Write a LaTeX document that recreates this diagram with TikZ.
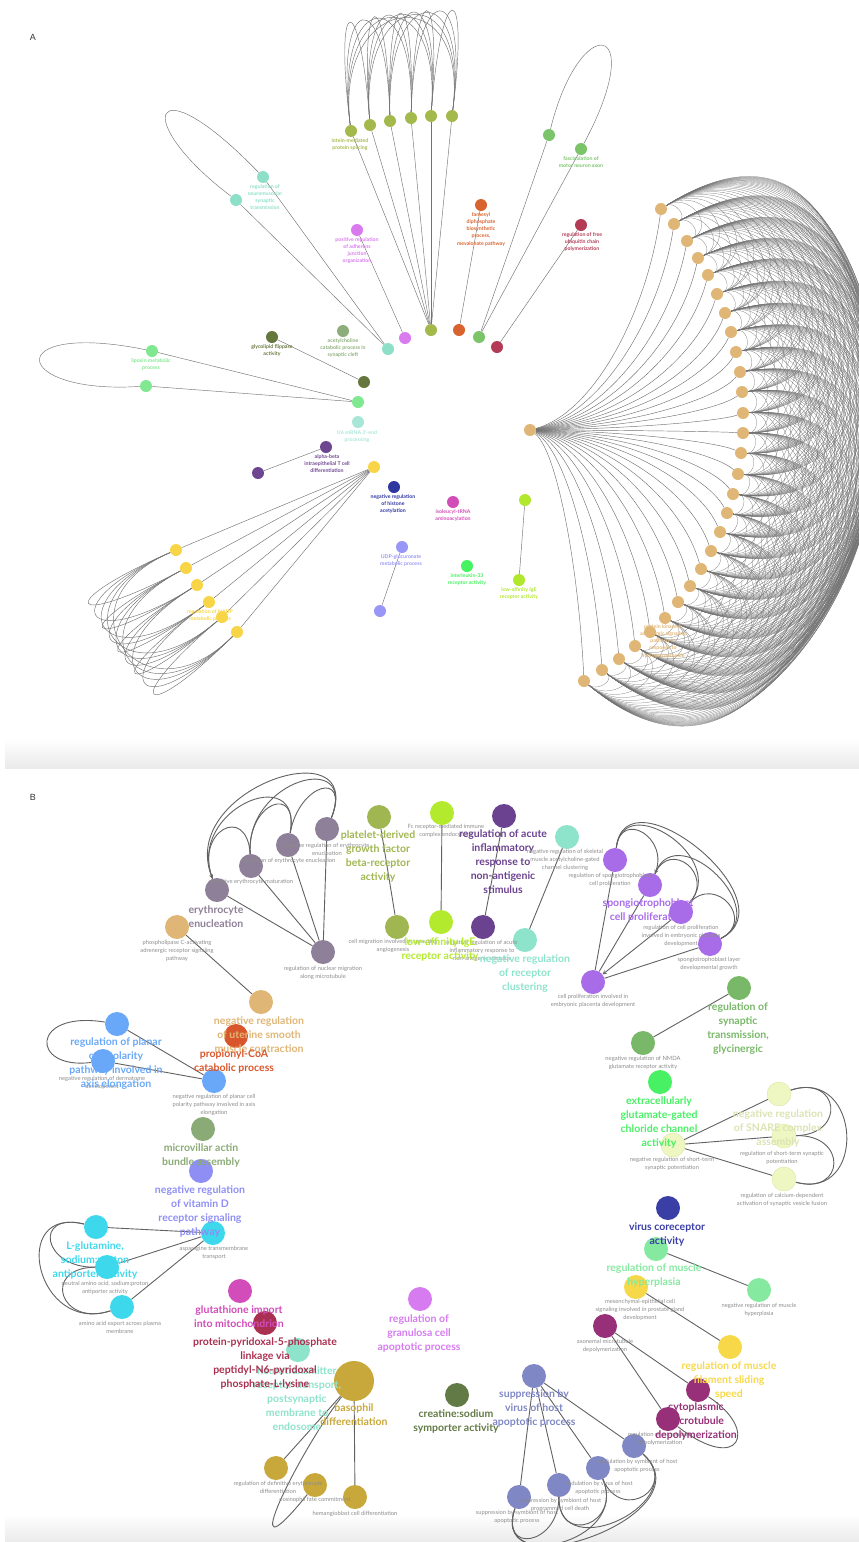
\documentclass[tikz,border=0pt]{standalone}
\usepackage{fontspec}
\setmainfont{Lato}
\setsansfont{Liberation Sans}
\usetikzlibrary{calc,positioning,backgrounds}

% panel A colours
\definecolor{oliveA}{HTML}{A4B94C}
\definecolor{tealA}{HTML}{8EDFC8}
\definecolor{magA}{HTML}{D97AEE}
\definecolor{orangeA}{HTML}{D9632E}
\definecolor{greenA}{HTML}{7BC46A}
\definecolor{crimA}{HTML}{B33B55}
\definecolor{dkoliveA}{HTML}{66773E}
\definecolor{sageA}{HTML}{8DAE7A}
\definecolor{lgreenA}{HTML}{80E890}
\definecolor{ptealA}{HTML}{A8E6D8}
\definecolor{purpA}{HTML}{6E4591}
\definecolor{yellowA}{HTML}{F7D547}
\definecolor{navyA}{HTML}{2E36A0}
\definecolor{pinkA}{HTML}{D34DB8}
\definecolor{lavA}{HTML}{9896F6}
\definecolor{bgreenA}{HTML}{45F25F}
\definecolor{limeA}{HTML}{B1E82E}
\definecolor{tanA}{HTML}{E0B676}
% panel B colours
\definecolor{mauveB}{HTML}{8E8098}
\definecolor{tanB}{HTML}{E0B676}
\definecolor{oliveB}{HTML}{A0B650}
\definecolor{limeB}{HTML}{B3EA2E}
\definecolor{dpurpB}{HTML}{6B4290}
\definecolor{aquaB}{HTML}{8EE3CB}
\definecolor{violetB}{HTML}{A86CE9}
\definecolor{greenB}{HTML}{78B868}
\definecolor{blueB}{HTML}{69A8F9}
\definecolor{rustB}{HTML}{D9552B}
\definecolor{sageB}{HTML}{8AAA76}
\definecolor{periB}{HTML}{8E8EF5}
\definecolor{cyanB}{HTML}{3DD8EC}
\definecolor{magB}{HTML}{D24CBA}
\definecolor{crimB}{HTML}{A93050}
\definecolor{goldB}{HTML}{C8A83A}
\definecolor{dkoliveB}{HTML}{627A45}
\definecolor{orchidB}{HTML}{D67BF0}
\definecolor{bgreenB}{HTML}{48F064}
\definecolor{paleB}{HTML}{EEF7C2}
\definecolor{navyB}{HTML}{3A3FA6}
\definecolor{mintB}{HTML}{86E9A0}
\definecolor{yellowB}{HTML}{F7D848}
\definecolor{plumB}{HTML}{973078}
\definecolor{slateB}{HTML}{7F87C4}

\tikzset{
  vtx/.style={circle, fill=#1, inner sep=0pt, minimum size=12pt},
  bvtx/.style={circle, fill=#1, inner sep=0pt, minimum size=24pt},
  lblA/.style={font=\bfseries\fontsize{5.2}{7.3}\selectfont, text=#1, align=center, inner sep=0pt, anchor=north},
  lblB/.style={font=\bfseries\fontsize{10.5}{14}\selectfont, text=#1, align=center, inner sep=0pt, anchor=north},
  note/.style={font=\fontsize{5.8}{8}\selectfont, text=black!45, align=center, inner sep=0pt, anchor=north},
  EdgeA/.style={draw=black!55, line width=0.45pt},
  EdgeB/.style={draw=black!62, line width=0.9pt},
  Mesh/.style={draw=black!55, line width=0.25pt},
}

% curve from #2 to #3 bowing away from centre #4, reach #5 (\n4 = chord)
\newcommand{\bowarc}[5][]{%
  \draw[#1] let \p1=(#2), \p2=(#3), \p3=(#4),
      \n1={veclen(\x1-\x3,\y1-\y3)}, \n2={veclen(\x2-\x3,\y2-\y3)},
      \n4={veclen(\x2-\x1,\y2-\y1)} in
    (#2) .. controls ({\x1+(#5)*((\x1-\x3)/\n1)},{\y1+(#5)*((\y1-\y3)/\n1)})
    and ({\x2+(#5)*((\x2-\x3)/\n2)},{\y2+(#5)*((\y2-\y3)/\n2)}) .. (#3);%
}

\begin{document}
\begin{tikzpicture}[x=1pt, y=-1pt]
  \useasboundingbox (0,0) rectangle (859,1542);

  % Panel letters
  \node[font=\sffamily\fontsize{9}{9}\selectfont, text=black!80] (pA) at (33,37) {A};
  \node[font=\sffamily\fontsize{9}{9}\selectfont, text=black!80] (pB) at (33,797) {B};

  % Centres for the loops
  \coordinate (ctrT) at (300,440);
  \coordinate (ctrO) at (400,520);
  \coordinate (ctrY) at (430,440);
  \coordinate (ctrE) at (260,1000);
  \coordinate (ctrP) at (600,1000);
  \coordinate (ctrC) at (250,1265);
  \coordinate (ctrN) at (640,1140);
  \coordinate (ctrS) at (560,1380);

  % Vertices -- panel A
  \node[vtx=oliveA] (o0) at (431,330) {};
  \foreach \x/\y [count=\k] in {351/131, 370/125, 390/121, 411/118, 431/116, 452/116}
    \node[vtx=oliveA] (o\k) at (\x,\y) {};
  \node[vtx=tealA] (ta0) at (388,349) {};
  \node[vtx=tealA] (ta1) at (263,177) {};
  \node[vtx=tealA] (ta2) at (236,200) {};
  \node[vtx=magA] (ma0) at (405,338) {};
  \node[vtx=magA] (ma1) at (357,230) {};
  \node[vtx=orangeA] (or0) at (459,330) {};
  \node[vtx=orangeA] (or1) at (481,205) {};
  \node[vtx=greenA] (ga0) at (479,337) {};
  \node[vtx=greenA] (ga1) at (549,135) {};
  \node[vtx=greenA] (ga2) at (581,149) {};
  \node[vtx=crimA] (cr0) at (497,347) {};
  \node[vtx=crimA] (cr1) at (581,225) {};
  \node[vtx=dkoliveA] (dk0) at (364,382) {};
  \node[vtx=dkoliveA] (dk1) at (272,337) {};
  \node[vtx=sageA] (sg) at (343,331) {};
  \node[vtx=lgreenA] (la0) at (358,402) {};
  \node[vtx=lgreenA] (la1) at (152,351) {};
  \node[vtx=lgreenA] (la2) at (146,386) {};
  \node[vtx=ptealA] (pt) at (358,422) {};
  \node[vtx=purpA] (pu1) at (326,447) {};
  \node[vtx=purpA] (pu2) at (258,473) {};
  \node[vtx=yellowA] (yw0) at (374,467) {};
  \foreach \x/\y [count=\k] in {176/550, 186/568, 197/585, 209/602, 222/617, 237/632}
    \node[vtx=yellowA] (yw\k) at (\x,\y) {};
  \node[vtx=navyA] (nv) at (394,487) {};
  \node[vtx=pinkA] (pk) at (453,502) {};
  \node[vtx=lavA] (lv1) at (402,547) {};
  \node[vtx=lavA] (lv2) at (380,611) {};
  \node[vtx=bgreenA] (bg) at (467,566) {};
  \node[vtx=limeA] (lm1) at (525,500) {};
  \node[vtx=limeA] (lm2) at (519,580) {};
  \node[vtx=tanA] (t0) at (530,430) {};
  \foreach \x/\y [count=\k] in {661/209, 674/224, 687/241, 698/258, 708/275, 717/294,
      725/313, 731/332, 736/352, 740/372, 742/392, 743/413, 743/433, 741/453,
      738/474, 733/494, 727/513, 720/532, 711/551, 701/569, 690/586, 678/602,
      665/618, 650/632, 635/646, 619/659, 602/670, 584/681}
    \node[vtx=tanA] (t\k) at (\x,\y) {};

  % Labels -- panel A
  \node[lblA=oliveA] (o1l) at (350,138) {intein-mediated\\protein splicing};
  \node[lblA=tealA] (ta1l) at (265,184) {regulation of\\neuromuscular\\synaptic\\transmission};
  \node[lblA=magA] (ma1l) at (357,237) {positive regulation\\of adherens\\junction\\organization};
  \node[lblA=orangeA] (or1l) at (481,212) {farnesyl\\diphosphate\\biosynthetic\\process,\\mevalonate pathway};
  \node[lblA=greenA] (ga2l) at (581,156) {fasciculation of\\motor neuron axon};
  \node[lblA=crimA] (cr1l) at (582,232) {regulation of free\\ubiquitin chain\\polymerization};
  \node[lblA=dkoliveA] (dk1l) at (272,344) {glycolipid flippase\\activity};
  \node[lblA=sageA] (sgl) at (343,338) {acetylcholine\\catabolic process in\\synaptic cleft};
  \node[lblA=lgreenA] (la1l) at (151,358) {lipoxin metabolic\\process};
  \node[lblA=ptealA] (ptl) at (357,430) {U6 snRNA 3'-end\\processing};
  \node[lblA=purpA] (pu1l) at (327,454) {alpha-beta\\intraepithelial T cell\\differentiation};
  \node[lblA=navyA] (nvl) at (393,494) {negative regulation\\of histone\\acetylation};
  \node[lblA=pinkA] (pkl) at (453,509) {isoleucyl-tRNA\\aminoacylation};
  \node[lblA=lavA] (lv1l) at (401,554) {UDP-glucuronate\\metabolic process};
  \node[lblA=bgreenA] (bgl) at (467,573) {interleukin-33\\receptor activity};
  \node[lblA=limeA] (lm2l) at (519,587) {low-affinity IgE\\receptor activity};
  \node[lblA=yellowA] (yw4l) at (210,609) {regulation of NADP\\metabolic process};
  \node[lblA=tanA] (t24l) at (663,624) {protein kinase A\\adrenergic signaling\\pathway in\\response to\\hydrogen peroxide};

  % Vertices -- panel B
  \node[bvtx=mauveB] (e1) at (217,890) {};
  \node[bvtx=mauveB] (e2) at (251,866) {};
  \node[bvtx=mauveB] (e3) at (288,845) {};
  \node[bvtx=mauveB] (e4) at (327,829) {};
  \node[bvtx=mauveB] (e0) at (323,952) {};
  \node[bvtx=tanB] (pl1) at (177,927) {};
  \node[bvtx=tanB] (pl2) at (261,1002) {};
  \node[bvtx=oliveB] (pd1) at (379,817) {};
  \node[bvtx=oliveB] (pd2) at (397,927) {};
  \node[bvtx=limeB] (ie1) at (442,813) {};
  \node[bvtx=limeB] (ie2) at (441,922) {};
  \node[bvtx=dpurpB] (ac1) at (504,816) {};
  \node[bvtx=dpurpB] (ac2) at (483,927) {};
  \node[bvtx=aquaB] (rc1) at (567,837) {};
  \node[bvtx=aquaB] (rc2) at (525,940) {};
  \node[bvtx=violetB] (p1) at (615,860) {};
  \node[bvtx=violetB] (p2) at (650,885) {};
  \node[bvtx=violetB] (p3) at (681,912) {};
  \node[bvtx=violetB] (p4) at (710,944) {};
  \node[bvtx=violetB] (p0) at (593,982) {};
  \node[bvtx=greenB] (gl1) at (739,988) {};
  \node[bvtx=greenB] (gl2) at (643,1043) {};
  \node[bvtx=blueB] (b1) at (117,1024) {};
  \node[bvtx=blueB] (b2) at (103,1061) {};
  \node[bvtx=blueB] (b3) at (214,1081) {};
  \node[bvtx=rustB] (pc) at (236,1036) {};
  \node[bvtx=sageB] (mv) at (203,1129) {};
  \node[bvtx=periB] (vd) at (201,1171) {};
  \node[bvtx=cyanB] (c1) at (96,1227) {};
  \node[bvtx=cyanB] (c2) at (107,1267) {};
  \node[bvtx=cyanB] (c3) at (122,1307) {};
  \node[bvtx=cyanB] (c0) at (213,1233) {};
  \node[bvtx=magB] (gi) at (240,1291) {};
  \node[bvtx=crimB] (pp) at (265,1323) {};
  \node[bvtx=aquaB] (nt) at (298,1350) {};
  \node[bvtx=goldB, minimum size=40pt] (g0) at (354,1381) {};
  \node[bvtx=goldB] (g1) at (276,1468) {};
  \node[bvtx=goldB] (g2) at (315,1485) {};
  \node[bvtx=goldB] (g3) at (355,1497) {};
  \node[bvtx=orchidB] (gc) at (420,1299) {};
  \node[bvtx=dkoliveB] (cs) at (457,1395) {};
  \node[bvtx=bgreenB] (eg) at (660,1082) {};
  \node[bvtx=paleB, draw=paleB!85!olive, line width=0.4pt] (sn0) at (673,1145) {};
  \node[bvtx=paleB, draw=paleB!85!olive, line width=0.4pt] (sn1) at (779,1094) {};
  \node[bvtx=paleB, draw=paleB!85!olive, line width=0.4pt] (sn2) at (784,1136) {};
  \node[bvtx=paleB, draw=paleB!85!olive, line width=0.4pt] (sn3) at (784,1179) {};
  \node[bvtx=navyB] (vc) at (668,1208) {};
  \node[bvtx=mintB] (mh1) at (656,1249) {};
  \node[bvtx=mintB] (mh2) at (759,1290) {};
  \node[bvtx=yellowB] (fs1) at (636,1287) {};
  \node[bvtx=yellowB] (fs2) at (730,1347) {};
  \node[bvtx=plumB] (m1) at (605,1326) {};
  \node[bvtx=plumB] (m2) at (698,1390) {};
  \node[bvtx=plumB] (m3) at (668,1419) {};
  \node[bvtx=slateB] (s0) at (534,1376) {};
  \node[bvtx=slateB] (s1) at (519,1497) {};
  \node[bvtx=slateB] (s2) at (559,1485) {};
  \node[bvtx=slateB] (s3) at (598,1468) {};
  \node[bvtx=slateB] (s4) at (634,1446) {};

  % Labels -- panel B
  \node[note] (e4l) at (327,843) {positive regulation of erythrocyte\\enucleation};
  \node[note] (e3l) at (288,858) {regulation of erythrocyte enucleation};
  \node[note] (e2l) at (251,879) {definitive erythrocyte maturation};
  \node[lblB=mauveB] (e1l) at (216,905) {erythrocyte\\enucleation};
  \node[note] (e0l) at (323,966) {regulation of nuclear migration\\along microtubule};
  \node[note] (pl1l) at (177,940) {phospholipase C-activating\\adrenergic receptor signaling\\pathway};
  \node[lblB=tanB] (pl2l) at (259,1016) {negative regulation\\of uterine smooth\\muscle contraction};
  \node[note] (pd2l) at (393,939) {cell migration involved in sprouting\\angiogenesis};
  \node[note] (ie1l) at (446,824) {Fc receptor-mediated immune\\complex endocytosis};
  \node[lblB=oliveB] (pd1l) at (378,830) {platelet-derived\\growth factor\\beta-receptor\\activity};
  \node[note] (ac2l) at (482,940) {negative regulation of acute\\inflammatory response to\\non-antigenic stimulus};
  \node[lblB=limeB] (ie2l) at (440,937) {low-affinity IgE\\receptor activity};
  \node[lblB=dpurpB] (ac1l) at (503,829) {regulation of acute\\inflammatory\\response to\\non-antigenic\\stimulus};
  \node[note] (rc1l) at (565,849) {negative regulation of skeletal\\muscle acetylcholine-gated\\channel clustering};
  \node[lblB=aquaB] (rc2l) at (525,954) {negative regulation\\of receptor\\clustering};
  \node[note] (p1l) at (610,873) {regulation of spongiotrophoblast\\cell proliferation};
  \node[note] (p3l) at (681,925) {regulation of cell proliferation\\involved in embryonic placenta\\development};
  \node[note] (p4l) at (709,957) {spongiotrophoblast layer\\developmental growth};
  \node[lblB=violetB] (p2l) at (648,898) {spongiotrophoblast\\cell proliferation};
  \node[note] (p0l) at (593,994) {cell proliferation involved in\\embryonic placenta development};
  \node[lblB=greenB] (gl1l) at (738,1002) {regulation of\\synaptic\\transmission,\\glycinergic};
  \node[note] (gl2l) at (643,1056) {negative regulation of NMDA\\glutamate receptor activity};
  \node[note] (b2l) at (102,1076) {negative regulation of dermatome\\development};
  \node[lblB=blueB] (b1l) at (116,1037) {regulation of planar\\cell polarity\\pathway involved in\\axis elongation};
  \node[lblB=rustB] (pcl) at (234,1049) {propionyl-CoA\\catabolic process};
  \node[note] (b3l) at (214,1094) {negative regulation of planar cell\\polarity pathway involved in axis\\elongation};
  \node[lblB=sageB] (mvl) at (201,1143) {microvillar actin\\bundle assembly};
  \node[lblB=periB] (vdl) at (200,1185) {negative regulation\\of vitamin D\\receptor signaling\\pathway};
  \node[note] (c0l) at (214,1246) {asparagine transmembrane\\transport};
  \node[note] (c2l) at (105,1281) {neutral amino acid, sodium:proton\\antiporter activity};
  \node[note] (c3l) at (120,1321) {amino acid export across plasma\\membrane};
  \node[lblB=cyanB] (c1l) at (95,1241) {L-glutamine,\\sodium:proton\\antiporter activity};
  \node[lblB=aquaB] (ntl) at (297,1366) {neurotransmitter\\receptor transport,\\postsynaptic\\membrane to\\endosome};
  \node[lblB=magB] (gil) at (239,1305) {glutathione import\\into mitochondrion};
  \node[lblB=crimB] (ppl) at (265,1337) {protein-pyridoxal-5-phosphate\\linkage via\\peptidyl-N6-pyridoxal\\phosphate-L-lysine};
  \node[lblB=goldB] (g0l) at (354,1403) {basophil\\differentiation};
  \node[note] (g1l) at (278,1481) {regulation of definitive erythrocyte\\differentiation};
  \node[note] (g2l) at (315,1497) {eosinophil fate commitment};
  \node[note] (g3l) at (355,1511) {hemangioblast cell differentiation};
  \node[lblB=orchidB] (gcl) at (419,1314) {regulation of\\granulosa cell\\apoptotic process};
  \node[lblB=dkoliveB] (csl) at (456,1409) {creatine:sodium\\symporter activity};
  \node[note] (sn0l) at (672,1157) {negative regulation of short-term\\synaptic potentiation};
  \node[note] (sn2l) at (782,1151) {regulation of short-term synaptic\\potentiation};
  \node[note] (sn3l) at (782,1193) {regulation of calcium-dependent\\activation of synaptic vesicle fusion};
  \node[lblB=bgreenB] (egl) at (659,1096) {extracellularly\\glutamate-gated\\chloride channel\\activity};
  \node[lblB=paleB!92!black] (sn1l) at (778,1109) {negative regulation\\of SNARE complex\\assembly};
  \node[lblB=navyB] (vcl) at (667,1222) {virus coreceptor\\activity};
  \node[note] (mh2l) at (759,1303) {negative regulation of muscle\\hyperplasia};
  \node[note] (fs1l) at (640,1299) {mesenchymal-epithelial cell\\signaling involved in prostate gland\\development};
  \node[lblB=mintB] (mh1l) at (654,1263) {regulation of muscle\\hyperplasia};
  \node[note] (m1l) at (605,1339) {axonemal microtubule\\depolymerization};
  \node[lblB=yellowB] (fs2l) at (729,1361) {regulation of muscle\\filament sliding\\speed};
  \node[note] (m3l) at (660,1432) {regulation of microtubule\\depolymerization};
  \node[note] (s4l) at (637,1459) {modulation by symbiont of host\\apoptotic process};
  \node[note] (s3l) at (598,1481) {modulation by virus of host\\apoptotic process};
  \node[note] (s2l) at (560,1498) {suppression by symbiont of host\\programmed cell death};
  \node[note] (s1l) at (517,1510) {suppression by symbiont of host\\apoptotic process};
  \node[lblB=plumB] (m2l) at (696,1402) {cytoplasmic\\microtubule\\depolymerization};
  \node[lblB=slateB] (s0l) at (534,1389) {suppression by\\virus of host\\apoptotic process};

  \begin{scope}[on background layer]
    % Panel feet
    \fill[top color=white, bottom color=black!8] (5,738) rectangle (859,768);
    \fill[top color=white, bottom color=black!8] (5,1514) rectangle (859,1542);

    % Edges -- panel A
    \foreach \k in {1,...,6} \draw[EdgeA] (o0) -- (o\k);
    \draw[EdgeA] (ta0) -- (ta1) (ta0) -- (ta2);
    \draw[EdgeA] (ma0) -- (ma1) (or0) -- (or1) (cr0) -- (cr1) (dk0) -- (dk1);
    \draw[EdgeA] (ga0) -- (ga1) (ga0) -- (ga2);
    \draw[EdgeA] (la0) -- (la1) (la0) -- (la2);
    \draw[EdgeA] (pu1) -- (pu2) (lv1) -- (lv2) (lm1) -- (lm2);
    \foreach \k in {1,...,6} \draw[EdgeA] (yw0) -- (yw\k);
    \foreach \k in {1,...,28}
      \draw[EdgeA] let \p1=(t0), \p2=(t\k) in
        (t0) .. controls ({\x1+0.5*(\x2-\x1)},{\y1+0.08*(\y2-\y1)})
        and ({\x2-0.1*(\x2-\x1)},{\y1+0.55*(\y2-\y1)}) .. (t\k);

    % Loops -- panel A
    \draw[EdgeA] (ta1) .. controls (150,60) and (130,120) .. (ta2);
    \draw[EdgeA] (ga1) .. controls (580,10) and (650,20) .. (ga2);
    \draw[EdgeA] (la1) .. controls (0,320) and (10,395) .. (la2);
    \foreach \i in {1,...,5}{
      \pgfmathtruncatemacro\jn{\i+1}
      \foreach \j in {\jn,...,6}{\bowarc[EdgeA]{o\i}{o\j}{ctrO}{140}}
      \foreach \j in {\jn,...,6}{\bowarc[EdgeA]{yw\i}{yw\j}{ctrY}{135}}
    }
    \foreach \i in {1,...,27}{
      \pgfmathtruncatemacro\jn{\i+1}
      \foreach \j in {\jn,...,28}{\bowarc[Mesh]{t\i}{t\j}{ctrT}{0.8*\n4}}
    }

    % Edges -- panel B
    \draw[EdgeB] (e0) -- (e1) (e0) -- (e2) (e0) -- (e3) (e0) -- (e4);
    \draw[EdgeB] (pl1) -- (pl2) (pd1) -- (pd2) (ie1) -- (ie2) (ac1) -- (ac2) (rc1) -- (rc2);
    \draw[EdgeB] (p0) -- (p1) (p0) -- (p2) (p0) -- (p4);
    \draw[EdgeB, -stealth] (p3) -- (p0);
    \draw[EdgeB] (gl1) -- (gl2) (b1) -- (b3) (b2) -- (b3);
    \draw[EdgeB] (c0) -- (c1) (c0) -- (c2) (c0) -- (c3);
    \draw[EdgeB] (sn0) -- (sn1) (sn0) -- (sn2) (sn0) -- (sn3);
    \draw[EdgeB] (mh1) -- (mh2) (fs1) -- (fs2) (m1) -- (m2) (m1) -- (m3);
    \draw[EdgeB] (g0) -- (g1) (g0) -- (g3);
    \draw[EdgeB] (s0) -- (s1) (s0) -- (s2) (s0) -- (s3) (s0) -- (s4);

    % Loops -- panel B
    \foreach \a/\b in {e1/e2, e1/e3, e2/e3, e2/e4, e3/e4}{\bowarc[EdgeB]{\a}{\b}{ctrE}{40+0.55*\n4}}
    \bowarc[EdgeB, -stealth]{e4}{e1}{ctrE}{40+0.55*\n4}
    \foreach \a/\b in {p1/p2, p1/p3, p1/p4, p2/p3, p3/p4}{\bowarc[EdgeB]{\a}{\b}{ctrP}{30+0.5*\n4}}
    \bowarc[EdgeB, -stealth]{p4}{p2}{ctrP}{30+0.5*\n4}
    \foreach \a/\b in {c1/c2, c1/c3, c2/c3}{\bowarc[EdgeB]{\a}{\b}{ctrC}{40+0.6*\n4}}
    \foreach \a/\b in {sn1/sn2, sn1/sn3, sn2/sn3}{\bowarc[EdgeB]{\a}{\b}{ctrN}{40+0.55*\n4}}
    \foreach \a/\b in {s1/s2, s1/s3, s1/s4, s2/s3, s2/s4, s3/s4}{\bowarc[EdgeB]{\a}{\b}{ctrS}{40+0.5*\n4}}
    \draw[EdgeB] (b1) .. controls (30,1010) and (30,1070) .. (b2);
    \draw[EdgeB] (g0) .. controls (300,1450) and (230,1590) .. (g2);
    \draw[EdgeB] (m2) .. controls (760,1430) and (740,1475) .. (m3);
  \end{scope}
\end{tikzpicture}
\end{document}
